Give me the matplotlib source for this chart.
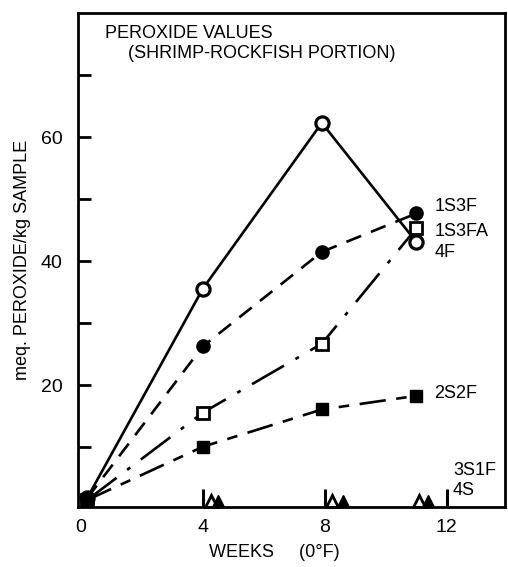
import matplotlib
matplotlib.use('Agg')
import matplotlib.pyplot as plt

plt.rcParams['font.family'] = ['Liberation Sans', 'DejaVu Sans']

# storage time (weeks at 0 F)
weeks_start = 0.2
weeks = [weeks_start, 4.0, 7.9, 11.0]

# peroxide values, meq./kg sample
pv_4F = [1.8, 35.6, 62.3, 43.1]
pv_1S3F = [1.8, 26.3, 41.5, 47.7]
pv_1S3FA = [1.5, 15.6, 26.7, 45.3]
pv_2S2F = [1.5, 10.1, 16.1, 18.3]

# 3S1F / 4S stay near zero
low_bar_x = [4.0, 8.0, 12.0]
low_bar_top = [3.3, 3.3, 3.3]
pv_3S1F_x = [4.25, 8.25, 11.1]
pv_3S1F = [1.3, 1.3, 1.3]
pv_4S_x = [4.5, 8.6, 11.4]
pv_4S = [1.3, 1.3, 1.3]

xticks = [0, 4, 8, 12]
ytick_labels = [20, 40, 60]

fig = plt.figure(figsize=(5.08, 5.67), dpi=100)
ax = fig.add_axes([0.1535, 0.106, 0.84, 0.871])

ax.plot(weeks, pv_4F, '-', color='black', lw=1.9, marker='o', ms=9.5,
        mfc='white', mec='black', mew=2.3, zorder=3)
ax.plot(weeks, pv_1S3F, color='black', lw=1.9, ls=(0, (6, 4)), marker='o', ms=9.5,
        mfc='black', mec='black', zorder=3)
ax.plot(weeks, pv_1S3FA, color='black', lw=1.9, ls=(0, (14, 5, 1.5, 5)), marker='s', ms=8,
        mfc='white', mec='black', mew=2.0, zorder=3)
ax.plot(weeks, pv_2S2F, color='black', lw=1.9, ls=(0, (10, 4, 4, 4)), marker='s', ms=8,
        mfc='black', mec='black', zorder=3)

ax.vlines(low_bar_x, 0.4, low_bar_top, color='black', lw=2.2)
ax.plot(pv_3S1F_x, pv_3S1F, ls='none', marker='^', ms=8, mfc='white', mec='black', mew=2.0,
        clip_on=False)
ax.plot(pv_4S_x, pv_4S, ls='none', marker='^', ms=8, mfc='black', mec='black', clip_on=False)

# curve labels
fs = 13
ax.text(11.6, 48.8, '1S3F', fontsize=fs, va='center', ha='left')
ax.text(11.6, 44.8, '1S3FA', fontsize=fs, va='center', ha='left')
ax.text(11.6, 41.4, '4F', fontsize=fs, va='center', ha='left')
ax.text(11.6, 18.7, '2S2F', fontsize=fs, va='center', ha='left')
ax.text(12.2, 6.2, '3S1F', fontsize=fs, va='center', ha='left')
ax.text(12.2, 3.0, '4S', fontsize=fs, va='center', ha='left')

ax.text(0.063, 0.975, 'PEROXIDE VALUES', transform=ax.transAxes, fontsize=fs, va='top')
ax.text(0.117, 0.935, '(SHRIMP-ROCKFISH PORTION)', transform=ax.transAxes, fontsize=fs, va='top')

ax.set_xlim(-0.1, 13.9)
ax.set_ylim(0.4, 80)

ax.set_xticks(xticks)
ax.set_xticklabels([str(t) for t in xticks], fontsize=14)
ax.tick_params(axis='x', length=0, pad=9)

ax.set_yticks(range(10, 80, 10))
ax.set_yticklabels([str(t) if t in ytick_labels else '' for t in range(10, 80, 10)], fontsize=14)
ax.tick_params(axis='y', direction='in', length=9, width=2.0, pad=11)

for s in ax.spines.values():
    s.set_linewidth(2.0)

ax.set_xlabel('WEEKS     (0°F)', fontsize=fs)
ax.xaxis.set_label_coords(0.46, -0.093)
ax.set_ylabel('meq. PEROXIDE/kg SAMPLE', fontsize=fs)
ax.yaxis.set_label_coords(-0.131, 0.5)
ax.yaxis.label.set_va('center')
ax.xaxis.label.set_va('center')

fig.savefig('out.png', dpi=100)
